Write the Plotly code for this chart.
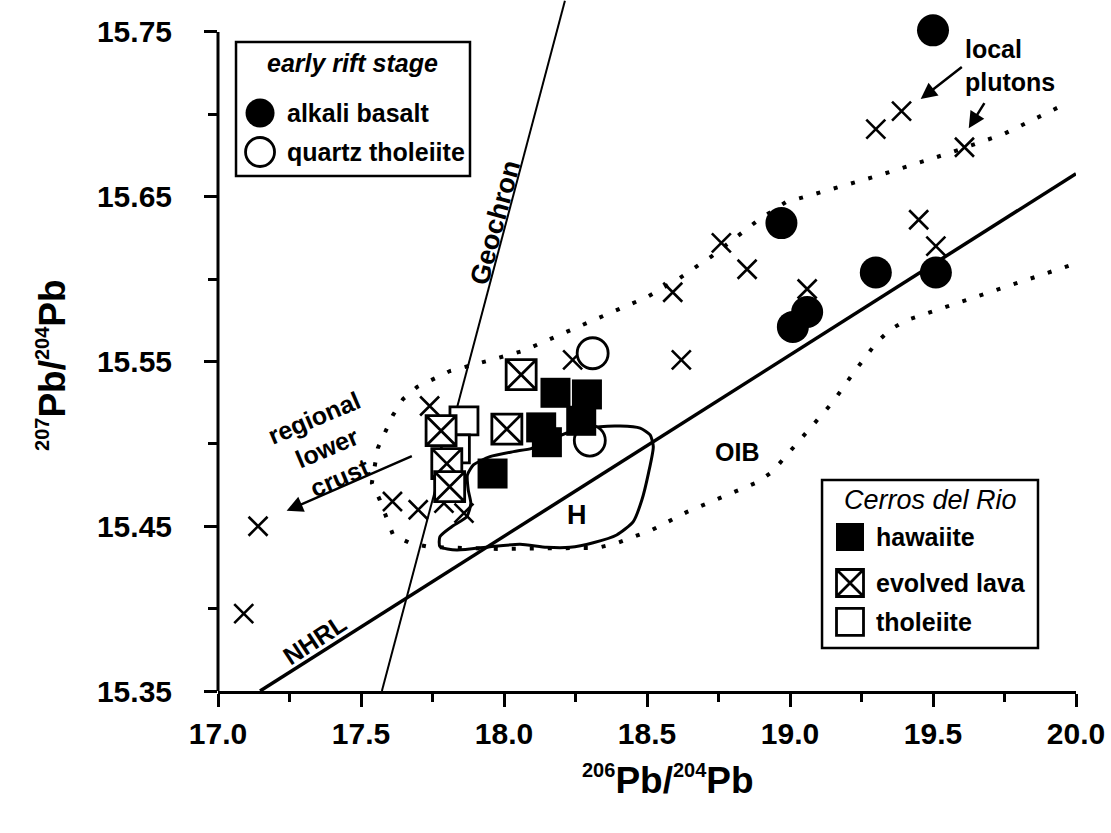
import plotly.graph_objects as go

# ---- sample data: 206Pb/204Pb (x) and 207Pb/204Pb (y) ----
# early rift stage
alkali_x = [19.50, 18.97, 19.30, 19.51, 19.06, 19.01]
alkali_y = [15.751, 15.634, 15.604, 15.604, 15.580, 15.571]
qtz_thol_x = [18.31, 18.30]
qtz_thol_y = [15.555, 15.502]

# Cerros del Rio
hawaiite_x = [18.18, 18.29, 18.27, 18.13, 18.15, 17.96]
hawaiite_y = [15.531, 15.530, 15.514, 15.510, 15.501, 15.482]
evolved_x = [18.06, 18.01, 17.78, 17.80, 17.81]
evolved_y = [15.542, 15.509, 15.508, 15.488, 15.474]
tholeiite_x = [17.86, 17.83]
tholeiite_y = [15.514, 15.497]

# crustal samples (lower crust xenoliths, local plutons and others)
other_x = [17.09, 17.14, 17.74, 17.61, 17.70, 17.79, 17.86, 18.24, 18.62,
           18.59, 19.30, 19.39, 19.61, 18.76, 18.85, 19.45, 19.51, 19.06]
other_y = [15.397, 15.450, 15.523, 15.465, 15.460, 15.464, 15.458, 15.551, 15.551,
           15.592, 15.691, 15.702, 15.680, 15.622, 15.606, 15.636, 15.620, 15.594]

# reference lines
geochron_x = [17.573, 18.213]
geochron_y = [15.350, 15.769]
nhrl_x = [17.147, 20.000]
nhrl_y = [15.350, 15.664]

# OIB field (dotted envelope)
oib_x = [19.934, 19.748, 19.559, 19.304, 19.049, 18.986, 18.885, 18.727, 18.615,
         18.500, 18.378, 18.189, 18.066, 17.941, 17.811, 17.696, 17.647, 17.612,
         17.559, 17.538, 17.566, 17.612, 17.671, 17.741, 17.986, 18.255, 18.325,
         18.395, 18.517, 18.640, 18.762, 18.888, 18.937, 18.979, 19.066, 19.150,
         19.224, 19.304, 19.353, 19.409, 19.545, 19.734, 19.983]
oib_y = [15.7039, 15.6881, 15.6766, 15.6626, 15.6498, 15.6468, 15.6353, 15.6140, 15.6007,
         15.5891, 15.5800, 15.5661, 15.5564, 15.5503, 15.5442, 15.5345, 15.5272, 15.5175,
         15.4975, 15.4763, 15.4659, 15.4447, 15.4398, 15.4374, 15.4362, 15.4368, 15.4368,
         15.4398, 15.4477, 15.4587, 15.4678, 15.4769, 15.4829, 15.4914, 15.5084, 15.5254,
         15.5436, 15.5618, 15.5697, 15.5752, 15.5831, 15.5940, 15.6086]

# Hawaiian field (H)
h_x = [18.097, 18.033, 17.951, 17.893, 17.872, 17.875, 17.884, 17.870, 17.817,
       17.776, 17.776, 17.835, 17.951, 18.056, 18.149, 18.231, 18.312, 18.394,
       18.452, 18.482, 18.505, 18.522, 18.511, 18.476, 18.406, 18.336, 18.231,
       18.143, 18.097]
h_y = [15.4973, 15.4953, 15.4922, 15.4872, 15.4811, 15.4720, 15.4639, 15.4558, 15.4497,
       15.4437, 15.4376, 15.4356, 15.4376, 15.4390, 15.4372, 15.4372, 15.4400, 15.4447,
       15.4528, 15.4659, 15.4821, 15.4983, 15.5054, 15.5095, 15.5108, 15.5104, 15.5072,
       15.5011, 15.4973]

x_ticks = [17.0, 17.5, 18.0, 18.5, 19.0, 19.5, 20.0]
x_tick_text = ["17.0", "17.5", "18.0", "18.5", "19.0", "19.5", "20.0"]
x_minor = [17.25, 17.75, 18.25, 18.75, 19.25, 19.75]
y_ticks = [15.35, 15.45, 15.55, 15.65, 15.75]
y_tick_text = ["15.35", "15.45", "15.55", "15.65", "15.75"]
y_minor = [15.40, 15.50, 15.60, 15.70]

FONT = "Liberation Sans, Arial, sans-serif"
BLACK = "black"

fig = go.Figure()

# fields and reference lines
fig.add_trace(go.Scatter(x=oib_x, y=oib_y, mode="lines", hoverinfo="skip",
                         line=dict(color=BLACK, width=4, dash="4px,14px")))
fig.add_trace(go.Scatter(x=h_x, y=h_y, mode="lines", hoverinfo="skip",
                         line=dict(color=BLACK, width=3, shape="spline", smoothing=0.6)))
fig.add_trace(go.Scatter(x=geochron_x, y=geochron_y, mode="lines",
                         line=dict(color=BLACK, width=2)))
fig.add_trace(go.Scatter(x=nhrl_x, y=nhrl_y, mode="lines",
                         line=dict(color=BLACK, width=3.5)))

# samples
fig.add_trace(go.Scatter(x=other_x, y=other_y, mode="markers", name="other",
                         marker=dict(symbol="x-thin", size=19, color=BLACK,
                                     line=dict(color=BLACK, width=2.6))))
fig.add_trace(go.Scatter(x=qtz_thol_x, y=qtz_thol_y, mode="markers", name="quartz tholeiite",
                         marker=dict(symbol="circle", size=31, color="white",
                                     line=dict(color=BLACK, width=2.8))))
fig.add_trace(go.Scatter(x=alkali_x, y=alkali_y, mode="markers", name="alkali basalt",
                         marker=dict(symbol="circle", size=32, color=BLACK,
                                     line=dict(color=BLACK, width=0))))
fig.add_trace(go.Scatter(x=tholeiite_x, y=tholeiite_y, mode="markers", name="tholeiite",
                         marker=dict(symbol="square", size=28, color="white",
                                     line=dict(color=BLACK, width=2.8))))
fig.add_trace(go.Scatter(x=evolved_x, y=evolved_y, mode="markers", name="evolved lava",
                         marker=dict(symbol="square-x", size=30, color="white",
                                     line=dict(color=BLACK, width=2.8))))
fig.add_trace(go.Scatter(x=hawaiite_x, y=hawaiite_y, mode="markers", name="hawaiite",
                         marker=dict(symbol="square", size=30, color=BLACK,
                                     line=dict(color=BLACK, width=0))))

# legend keys, placed on an overlay axis spanning the plot area (0..1)
key_style = [
    (0.049, 0.8365, dict(symbol="circle", size=29, color=BLACK, line=dict(width=0))),
    (0.049, 0.7800, dict(symbol="circle", size=29, color="white", line=dict(color=BLACK, width=2.8))),
    (0.7366, 0.2229, dict(symbol="square", size=28, color=BLACK, line=dict(width=0))),
    (0.7366, 0.1563, dict(symbol="square-x", size=27, color="white", line=dict(color=BLACK, width=2.8))),
    (0.7366, 0.0999, dict(symbol="square", size=27, color="white", line=dict(color=BLACK, width=2.8))),
]
for kx, ky, mk in key_style:
    fig.add_trace(go.Scatter(x=[kx], y=[ky], xaxis="x2", yaxis="y2", mode="markers",
                             marker=mk, hoverinfo="skip"))

fig.update_traces(showlegend=False)

shapes = [
    # y axis line, stopping at the top tick
    dict(type="line", xref="paper", yref="y", x0=0, x1=0, y0=15.35, y1=15.75,
         line=dict(color=BLACK, width=3)),
    # legend boxes
    dict(type="rect", xref="paper", yref="paper", x0=0.021, x1=0.2937, y0=0.7453, y1=0.9392,
         line=dict(color=BLACK, width=2.5), fillcolor="white", layer="below"),
    dict(type="rect", xref="paper", yref="paper", x0=0.704, x1=0.9557, y0=0.0622, y1=0.3054,
         line=dict(color=BLACK, width=2.5), fillcolor="white", layer="below"),
]

def txt(text, x, y, size=24, angle=0, xanchor="center", align="center", ref="data",
        italic=False, bold=True):
    return dict(text=text, x=x, y=y, showarrow=False, textangle=angle,
                xref="x" if ref == "data" else "paper", yref="y" if ref == "data" else "paper",
                xanchor=xanchor, yanchor="middle", align=align,
                font=dict(family=FONT, size=size, color=BLACK,
                          weight=700 if bold else 400,
                          style="italic" if italic else "normal"))

def arrow(x, y, ax, ay):
    return dict(x=x, y=y, ax=ax, ay=ay, xref="x", yref="y", axref="x", ayref="y",
                text="", showarrow=True, arrowhead=2, arrowsize=1.3, arrowwidth=2.5,
                arrowcolor=BLACK, standoff=0, startstandoff=0)

annotations = [
    txt("Geochron", 17.970, 15.6347, size=27, angle=-75),
    txt("NHRL", 17.336, 15.381, size=25, angle=-33),
    txt("OIB", 18.814, 15.4953, size=25),
    txt("H", 18.256, 15.4568, size=27),
    txt("regional<br>lower<br>crust", 17.381, 15.498, size=25, angle=-23),
    txt("local<br>plutons", 19.769, 15.7294, size=25, align="left"),
    arrow(17.24, 15.4594, 17.683, 15.4929),
    arrow(19.457, 15.7093, 19.606, 15.7294),
    arrow(19.625, 15.6916, 19.683, 15.7077),
    # legend text
    txt("early rift stage", 0.1573, 0.9088, size=25, ref="paper", italic=True),
    txt("alkali basalt", 0.0781, 0.8365, size=25, ref="paper", xanchor="left"),
    txt("quartz tholeiite", 0.0781, 0.7800, size=25, ref="paper", xanchor="left"),
    txt("Cerros del Rio", 0.831, 0.2764, size=27, ref="paper", italic=True, bold=False),
    txt("hawaiite", 0.7646, 0.2229, size=25, ref="paper", xanchor="left"),
    txt("evolved lava", 0.7646, 0.1563, size=25, ref="paper", xanchor="left"),
    txt("tholeiite", 0.7646, 0.0999, size=25, ref="paper", xanchor="left"),
    # axis titles
    txt("<sup><span style='font-size:20px'>207</span></sup>Pb/<sup><span style='font-size:20px'>204</span></sup>Pb",
        -0.1935, 0.4718, size=37, angle=-90, ref="paper"),
    txt("<sup><span style='font-size:20px'>206</span></sup>Pb/<sup><span style='font-size:20px'>204</span></sup>Pb",
        0.5245, -0.1288, size=37, ref="paper"),
]

tickfont = dict(family=FONT, size=30, color=BLACK, weight=700)

fig.update_layout(
    width=1111, height=833, autosize=False,
    margin=dict(l=218, r=35, t=0, b=142),
    paper_bgcolor="white", plot_bgcolor="white",
    showlegend=False,
    xaxis=dict(range=[17, 20], tickvals=x_ticks, ticktext=x_tick_text,
               ticks="outside", ticklen=13, tickwidth=3, tickcolor=BLACK,
               showline=True, linewidth=3, linecolor=BLACK,
               showgrid=False, zeroline=False, tickfont=tickfont,
               ticklabelstandoff=1,
               minor=dict(tickvals=x_minor, ticks="outside", ticklen=8,
                          tickwidth=3, tickcolor=BLACK, showgrid=False)),
    yaxis=dict(range=[15.35, 15.7694], tickvals=y_ticks, ticktext=y_tick_text,
               ticks="outside", ticklen=13, tickwidth=3, tickcolor=BLACK,
               showline=False, showgrid=False, zeroline=False, tickfont=tickfont,
               ticklabelstandoff=26,
               minor=dict(tickvals=y_minor, ticks="outside", ticklen=9,
                          tickwidth=3, tickcolor=BLACK, showgrid=False)),
    xaxis2=dict(overlaying="x", range=[0, 1], visible=False),
    yaxis2=dict(overlaying="y", range=[0, 1], visible=False),
    shapes=shapes,
    annotations=annotations,
)

fig.write_html("out.html")
